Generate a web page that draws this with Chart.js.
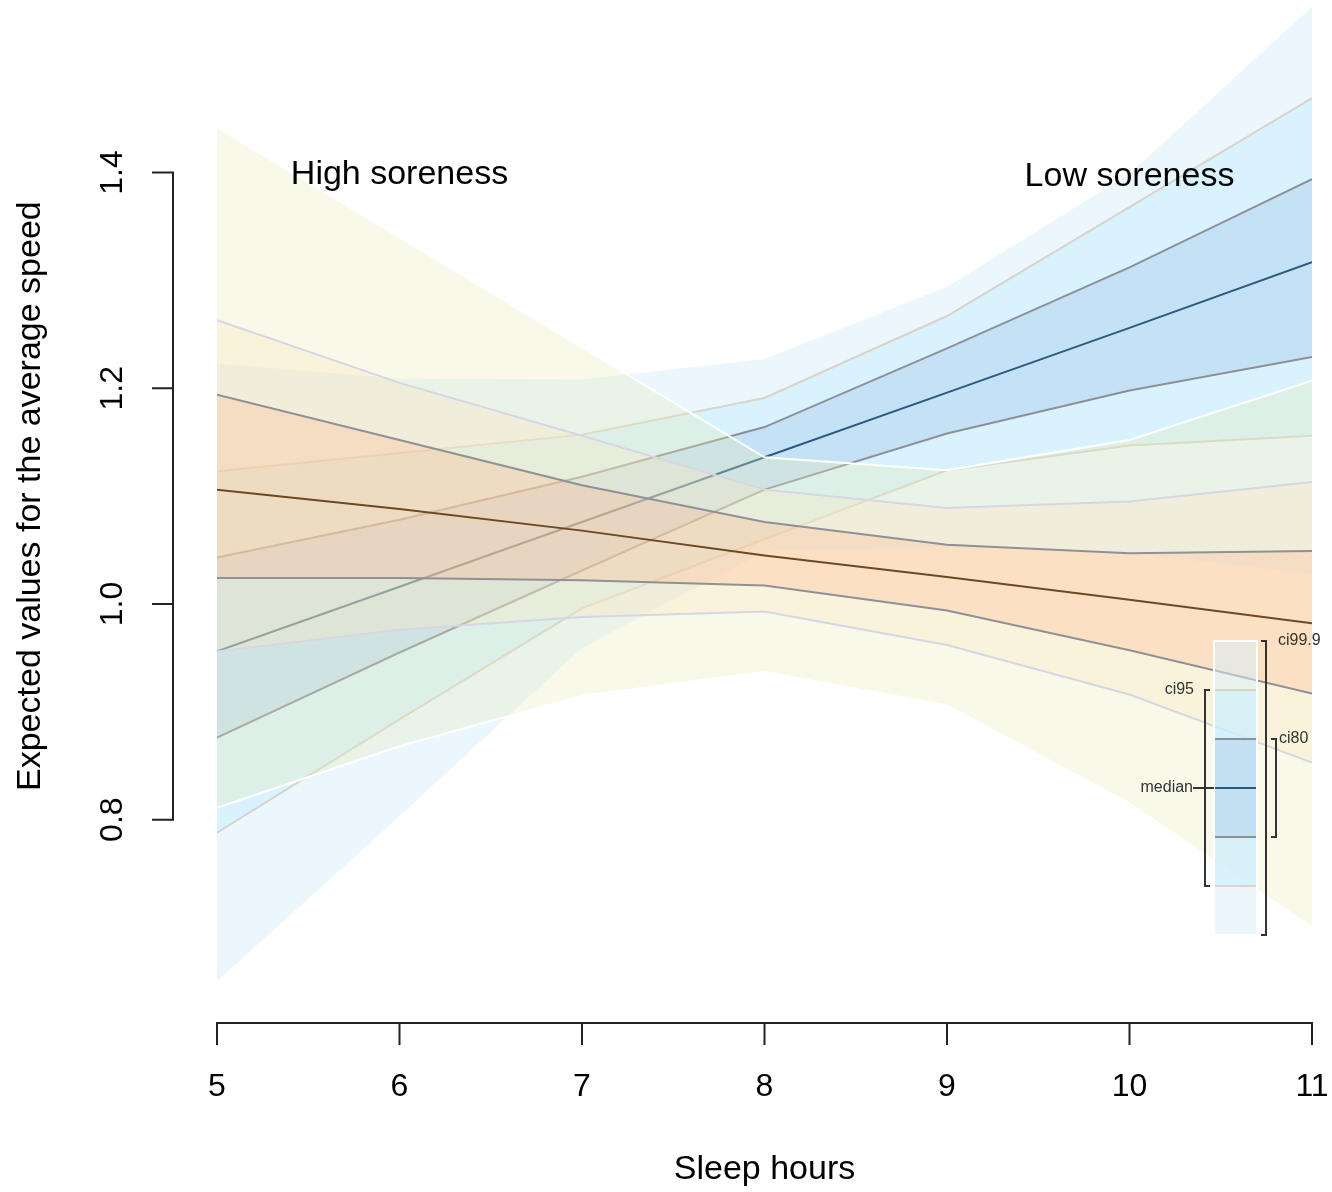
<!DOCTYPE html>
<html>
<head>
<meta charset="utf-8">
<script src="https://cdn.jsdelivr.net/npm/chart.js@4.4.0/dist/chart.umd.min.js"></script>
<style>
  html, body { margin: 0; padding: 0; background: #fff; }
  canvas { display: block; }
</style>
</head>
<body>
<canvas id="chart" width="1332" height="1192"></canvas>
<script>
// x values (sleep hours)
const sleepHours = [5, 6, 7, 8, 9, 10, 11];
const xTicks = [5, 6, 7, 8, 9, 10, 11];
const yTicks = [0.8, 1.0, 1.2, 1.4];

// Low soreness
const lowMedian     = [0.956, 1.016, 1.076, 1.136, 1.196, 1.256, 1.317];
const lowCi80Upper  = [1.043, 1.078, 1.118, 1.164, 1.237, 1.312, 1.394];
const lowCi80Lower  = [0.876, 0.955, 1.031, 1.106, 1.158, 1.198, 1.229];
const lowCi95Upper  = [1.123, 1.140, 1.157, 1.191, 1.267, 1.368, 1.469];
const lowCi95Lower  = [0.788, 0.893, 0.996, 1.060, 1.124, 1.147, 1.156];
const lowCi999Upper = [1.224, 1.210, 1.209, 1.228, 1.295, 1.400, 1.555];
const lowCi999Lower = [0.649, 0.802, 0.958, 1.048, 1.052, 1.047, 1.027];

// High soreness
const highMedian     = [1.106, 1.088, 1.068, 1.045, 1.025, 1.004, 0.982];
const highCi80Upper  = [1.194, 1.152, 1.110, 1.076, 1.055, 1.047, 1.049];
const highCi80Lower  = [1.024, 1.024, 1.022, 1.017, 0.994, 0.957, 0.917];
const highCi95Upper  = [1.263, 1.205, 1.156, 1.106, 1.089, 1.095, 1.113];
const highCi95Lower  = [0.956, 0.976, 0.988, 0.993, 0.962, 0.916, 0.853];
const highCi999Upper = [1.442, 1.340, 1.238, 1.136, 1.124, 1.152, 1.207];
const highCi999Lower = [0.811, 0.868, 0.915, 0.937, 0.906, 0.815, 0.700];

const FONT = '"Liberation Sans", Arial, Helvetica, sans-serif';

// colores de las bandas (se apilan con transparencia)
const blue = {
  c999: 'rgba(215,239,251,0.5)', c95: 'rgba(197,239,255,0.5)', c80: 'rgba(178,207,238,0.5)',
  e95: '#d9d3ca', e80: '#8f9096', median: '#2b5a80'
};
const warm = {
  c999: 'rgba(232,235,182,0.3)', c95: 'rgba(255,229,190,0.3)', c80: 'rgba(251,180,137,0.3)',
  e95: '#d6d6e4', e80: '#8f9098', median: '#6b4a22'
};

const groups = [
  { pal: blue, median: lowMedian, bands: [
      [lowCi999Upper, lowCi999Lower, 'c999', '#ffffff'],
      [lowCi95Upper, lowCi95Lower, 'c95', blue.e95],
      [lowCi80Upper, lowCi80Lower, 'c80', blue.e80]
  ]},
  { pal: warm, median: highMedian, bands: [
      [highCi999Upper, highCi999Lower, 'c999', '#ffffff'],
      [highCi95Upper, highCi95Lower, 'c95', warm.e95],
      [highCi80Upper, highCi80Lower, 'c80', warm.e80]
  ]}
];

function pts(arr) {
  return sleepHours.map((h, i) => ({ x: h, y: arr[i] }));
}

// construir datasets: lo primero queda debajo
const datasets = [];
let order = 100;
groups.forEach(g => {
  g.bands.forEach(([up, lo, key, edge]) => {
    const idx = datasets.length;
    datasets.push({ data: pts(up), borderColor: edge, borderWidth: 2, backgroundColor: g.pal[key],
                    fill: idx + 1, order: order--, pointRadius: 0 });
    datasets.push({ data: pts(lo), borderColor: edge, borderWidth: 2, fill: false,
                    order: order--, pointRadius: 0 });
  });
  datasets.push({ data: pts(g.median), borderColor: g.pal.median, borderWidth: 2, fill: false,
                  order: order--, pointRadius: 0 });
});

// ejes estilo R, textos y leyenda
const rStyle = {
  id: 'rStyle',
  afterDatasetsDraw(chart) {
    const { ctx, chartArea, scales: { x, y } } = chart;
    ctx.save();

    // etiquetas de grupo
    ctx.fillStyle = '#000';
    ctx.font = '34px ' + FONT;
    ctx.textAlign = 'center';
    ctx.textBaseline = 'alphabetic';
    ctx.fillText('High soreness', x.getPixelForValue(6), y.getPixelForValue(1.4) + 11);
    ctx.fillText('Low soreness', x.getPixelForValue(10), y.getPixelForValue(1.4) + 13);

    // leyenda
    const L = 1214, R = 1257, T = 641, step = 49;
    const yy = k => T + k * step;
    ctx.fillStyle = blue.c999; ctx.fillRect(L, yy(0), R - L, 6 * step);
    ctx.fillStyle = blue.c95;  ctx.fillRect(L, yy(1), R - L, 4 * step);
    ctx.fillStyle = blue.c80;  ctx.fillRect(L, yy(2), R - L, 2 * step);
    const hline = (k, color) => {
      ctx.strokeStyle = color; ctx.lineWidth = 2;
      ctx.beginPath(); ctx.moveTo(L, yy(k)); ctx.lineTo(R, yy(k)); ctx.stroke();
    };
    hline(1, blue.e95); hline(5, blue.e95);
    hline(2, blue.e80); hline(4, blue.e80);
    hline(3, blue.median);
    ctx.strokeStyle = '#fff'; ctx.lineWidth = 2;
    ctx.strokeRect(L, yy(0), R - L, 6 * step);

    ctx.strokeStyle = '#333'; ctx.lineWidth = 2;
    ctx.beginPath();
    // ci99.9
    ctx.moveTo(1261, yy(0)); ctx.lineTo(1266, yy(0)); ctx.lineTo(1266, yy(6)); ctx.lineTo(1261, yy(6));
    // ci80
    ctx.moveTo(1271, yy(2)); ctx.lineTo(1276, yy(2)); ctx.lineTo(1276, yy(4)); ctx.lineTo(1271, yy(4));
    // ci95
    ctx.moveTo(1210, yy(1)); ctx.lineTo(1205, yy(1)); ctx.lineTo(1205, yy(5)); ctx.lineTo(1210, yy(5));
    // median
    ctx.moveTo(1193, yy(3)); ctx.lineTo(L, yy(3));
    ctx.stroke();

    ctx.fillStyle = '#333';
    ctx.font = '16px ' + FONT;
    ctx.textBaseline = 'middle';
    ctx.textAlign = 'left';
    ctx.fillText('ci99.9', 1278, yy(0));
    ctx.fillText('ci80', 1279, yy(2));
    ctx.textAlign = 'right';
    ctx.fillText('ci95', 1194, yy(1));
    ctx.fillText('median', 1193, yy(3));

    // eje y
    const ax = chartArea.left - 44;
    ctx.strokeStyle = '#222'; ctx.lineWidth = 2;
    ctx.beginPath();
    ctx.moveTo(ax, y.getPixelForValue(yTicks[yTicks.length - 1]));
    ctx.lineTo(ax, y.getPixelForValue(yTicks[0]));
    yTicks.forEach(v => {
      const p = y.getPixelForValue(v);
      ctx.moveTo(ax + 1, p); ctx.lineTo(ax - 21, p);
    });
    // eje x
    const ay = chartArea.bottom + 20;
    ctx.moveTo(x.getPixelForValue(xTicks[0]), ay);
    ctx.lineTo(x.getPixelForValue(xTicks[xTicks.length - 1]), ay);
    xTicks.forEach(v => {
      const p = x.getPixelForValue(v);
      ctx.moveTo(p, ay - 1); ctx.lineTo(p, ay + 22);
    });
    ctx.stroke();

    ctx.fillStyle = '#000';
    ctx.font = '32px ' + FONT;
    ctx.textAlign = 'center';
    ctx.textBaseline = 'middle';
    xTicks.forEach(v => ctx.fillText(String(v), x.getPixelForValue(v), ay + 64));
    yTicks.forEach(v => {
      ctx.save();
      ctx.translate(ax - 60, y.getPixelForValue(v));
      ctx.rotate(-Math.PI / 2);
      ctx.fillText(v.toFixed(1), 0, 0);
      ctx.restore();
    });

    // titulos de ejes
    ctx.font = '34px ' + FONT;
    ctx.fillText('Sleep hours', (x.getPixelForValue(5) + x.getPixelForValue(11)) / 2, ay + 147);
    ctx.save();
    ctx.translate(31, (y.getPixelForValue(1.4) + y.getPixelForValue(0.8)) / 2);
    ctx.rotate(-Math.PI / 2);
    ctx.fillText('Expected values for the average speed', 0, 0);
    ctx.restore();

    ctx.restore();
  }
};

new Chart(document.getElementById('chart'), {
  type: 'line',
  data: { datasets },
  options: {
    responsive: false,
    animation: false,
    devicePixelRatio: 1,
    layout: { padding: { left: 217, right: 20, top: 0, bottom: 189 } },
    elements: { line: { tension: 0 } },
    plugins: { legend: { display: false }, tooltip: { enabled: false } },
    scales: {
      x: { type: 'linear', min: 5, max: 11, display: false },
      y: { type: 'linear', min: 0.63, max: 1.56, display: false }
    }
  },
  plugins: [rStyle]
});
</script>
</body>
</html>
